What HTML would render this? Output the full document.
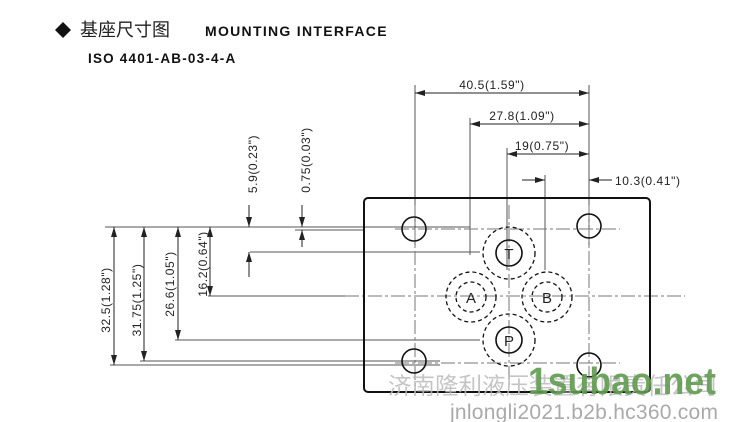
<!DOCTYPE html>
<html><head><meta charset="utf-8"><style>
body{margin:0;background:#fff;}
svg{display:block}
</style></head><body>
<svg width="730" height="422" viewBox="0 0 730 422" xmlns="http://www.w3.org/2000/svg" font-family="Liberation Sans, sans-serif">
<defs>
<marker id="a" viewBox="0 0 10 6" refX="10" refY="3" markerWidth="10" markerHeight="6" orient="auto-start-reverse" markerUnits="userSpaceOnUse"><path d="M0,0L10,3L0,6z" fill="#222"/></marker>
</defs>
<!-- title -->
<path d="M63,22L71,30L63,38L55,30z" fill="#111"/>
<text x="80" y="36" font-size="18" font-family="Noto Sans CJK SC, sans-serif" fill="#222">基座尺寸图</text>
<text x="205" y="36" font-size="14" font-weight="bold" fill="#111" letter-spacing="1.3">MOUNTING INTERFACE</text>
<text x="88" y="63" font-size="13.5" font-weight="bold" fill="#111" letter-spacing="1.2">ISO 4401-AB-03-4-A</text>

<g stroke="#555" stroke-width="1" fill="none">
<line x1="415" y1="85" x2="415" y2="245"/>
<line x1="589" y1="85" x2="589" y2="245"/>
<line x1="470" y1="118" x2="470" y2="255"/>
<line x1="507" y1="148" x2="507" y2="270"/>
<line x1="545" y1="175" x2="545" y2="270"/>
<line x1="105" y1="227" x2="470" y2="227"/>
<line x1="295" y1="230" x2="364" y2="230"/>
<line x1="250" y1="252" x2="480" y2="252"/>
<line x1="208" y1="296" x2="345" y2="296"/>
<line x1="175" y1="340" x2="480" y2="340"/>
<line x1="140" y1="361" x2="440" y2="361"/>
<line x1="110" y1="365" x2="440" y2="365"/>
</g>
<g stroke="#777" stroke-width="1" fill="none" stroke-dasharray="14,3,3,3">
<line x1="345" y1="296" x2="685" y2="296"/>
<line x1="509" y1="205" x2="509" y2="385"/>
<line x1="415" y1="205" x2="415" y2="390"/>
<line x1="589" y1="205" x2="589" y2="390"/>
<line x1="395" y1="229" x2="620" y2="229"/>
<line x1="395" y1="363" x2="620" y2="363"/>
</g>
<g stroke="#222" stroke-width="1" fill="none">
<line x1="415" y1="93" x2="589" y2="93" marker-start="url(#a)" marker-end="url(#a)"/>
<line x1="470" y1="124" x2="589" y2="124" marker-start="url(#a)" marker-end="url(#a)"/>
<line x1="507" y1="154" x2="589" y2="154" marker-start="url(#a)" marker-end="url(#a)"/>
<line x1="522" y1="180" x2="545" y2="180" marker-end="url(#a)"/>
<line x1="612" y1="180" x2="589" y2="180" marker-end="url(#a)"/>
<line x1="114" y1="227" x2="114" y2="365" marker-start="url(#a)" marker-end="url(#a)"/>
<line x1="144" y1="227" x2="144" y2="361" marker-start="url(#a)" marker-end="url(#a)"/>
<line x1="178" y1="227" x2="178" y2="340" marker-start="url(#a)" marker-end="url(#a)"/>
<line x1="210" y1="227" x2="210" y2="296" marker-start="url(#a)" marker-end="url(#a)"/>
<line x1="249" y1="205" x2="249" y2="227" marker-end="url(#a)"/>
<line x1="249" y1="277" x2="249" y2="252" marker-end="url(#a)"/>
<line x1="302" y1="205" x2="302" y2="227" marker-end="url(#a)"/>
<line x1="302" y1="247" x2="302" y2="230" marker-end="url(#a)"/>
</g>
<g font-size="12" fill="#222" letter-spacing="0.6">
<text x="492" y="89" text-anchor="middle">40.5(1.59")</text>
<text x="522" y="120" text-anchor="middle">27.8(1.09")</text>
<text x="542" y="150" text-anchor="middle">19(0.75")</text>
<text x="615" y="185">10.3(0.41")</text>
<text transform="translate(110,300) rotate(-90)" text-anchor="middle">32.5(1.28")</text>
<text transform="translate(141,300) rotate(-90)" text-anchor="middle">31.75(1.25")</text>
<text transform="translate(174,284) rotate(-90)" text-anchor="middle">26.6(1.05")</text>
<text transform="translate(207,264) rotate(-90)" text-anchor="middle">16.2(0.64")</text>
<text transform="translate(257,164) rotate(-90)" text-anchor="middle">5.9(0.23")</text>
<text transform="translate(310,160) rotate(-90)" text-anchor="middle">0.75(0.03")</text>
</g>
<rect x="364" y="198" width="286" height="194" rx="4" fill="none" stroke="#111" stroke-width="2"/>
<g stroke="#111" stroke-width="1.6" fill="none">
<circle cx="414" cy="229" r="12"/>
<circle cx="589" cy="226" r="12"/>
<circle cx="414" cy="361" r="12"/>
<circle cx="589" cy="365" r="12"/>
<circle cx="509" cy="253" r="13"/>
<circle cx="509" cy="340" r="13"/>
</g>
<g stroke="#111" stroke-width="1.3" fill="none" stroke-dasharray="4,3">
<circle cx="509" cy="253" r="26"/>
<circle cx="509" cy="340" r="26"/>
<circle cx="471" cy="297" r="25"/>
<circle cx="471" cy="297" r="15"/>
<circle cx="547" cy="297" r="25"/>
<circle cx="547" cy="297" r="15"/>
</g>
<g font-size="15" fill="#222" text-anchor="middle">
<text x="509" y="259">T</text>
<text x="471" y="303">A</text>
<text x="547" y="303">B</text>
<text x="509" y="346">P</text>
</g>
<text x="388" y="394" font-size="23.5" font-family="Noto Sans CJK SC, sans-serif" fill="#bbb" fill-opacity="0.85">济南隆利液压装置有限责任公司</text>
<text x="528" y="394" font-size="38" font-weight="bold" fill="#5f9a50" fill-opacity="0.9" textLength="188" lengthAdjust="spacingAndGlyphs">1subao.net</text>
<text x="450" y="419" font-size="21" fill="#aaa" textLength="268">jnlongli2021.b2b.hc360.com</text>
</svg>
</body></html>
